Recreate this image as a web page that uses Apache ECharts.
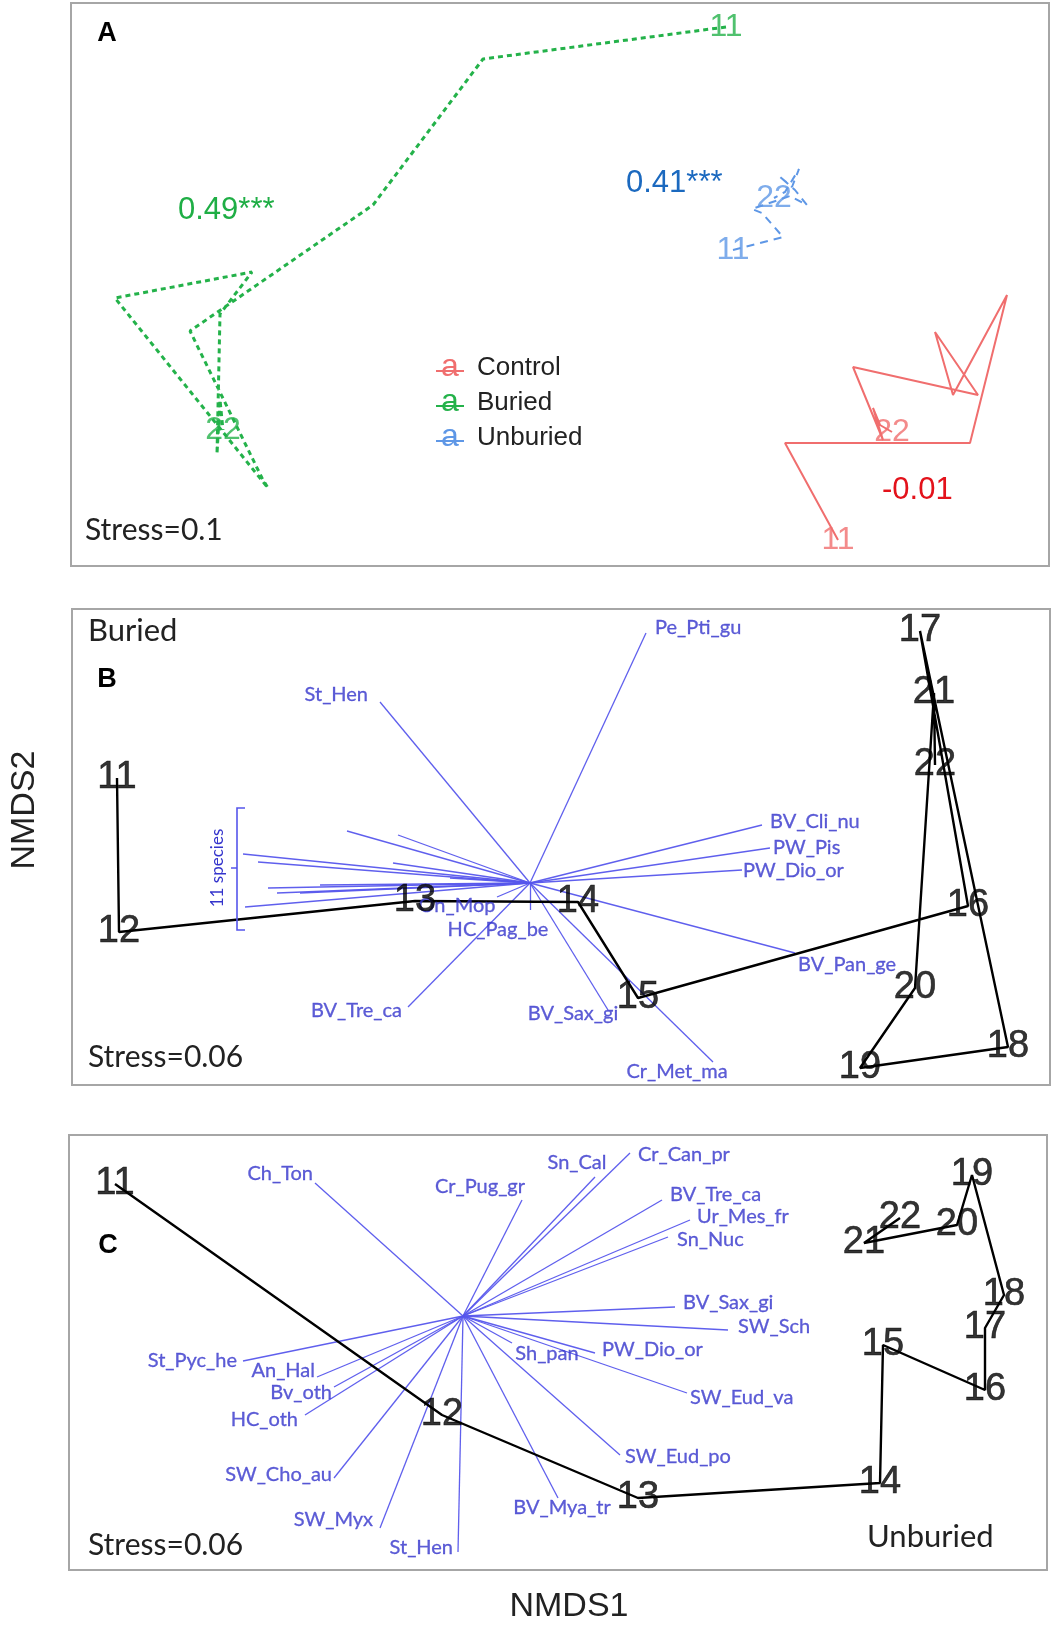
<!DOCTYPE html>
<html><head><meta charset="utf-8">
<script src="https://cdn.jsdelivr.net/npm/echarts/dist/echarts.min.js"></script>
<style>html,body{margin:0;padding:0;background:#fff}#c{width:1063px;height:1634px}</style>
</head><body><div id="c"></div>
<script>
// ---------- DATA ----------
const weeks = ['11','12','13','14','15','16','17','18','19','20','21','22'];

// Panel A (NMDS1, NMDS2 per week)
const aControlX  = [0.556,0.450,0.820,0.894,0.786,0.750,0.836,0.586,0.646,0.626,0.640,0.664];
const aControlY  = [-0.510,-0.316,-0.316,-0.020,-0.220,-0.094,-0.220,-0.164,-0.310,-0.246,-0.280,-0.294];
const aBuriedX   = [0.332,-0.154,-0.374,-0.740,-0.596,-0.584,-0.890,-0.616,-0.680,-0.686,-0.680,-0.674];
const aBuriedY   = [0.516,0.452,0.160,-0.092,-0.386,-0.406,-0.026,0.026,-0.058,-0.338,-0.230,-0.290];
const aUnburiedX = [0.346,0.446,0.404,0.384,0.460,0.494,0.470,0.438,0.464,0.478,0.450,0.428];
const aUnburiedY = [0.070,0.096,0.144,0.152,0.178,0.160,0.190,0.218,0.196,0.232,0.186,0.174];
const groups = ['Control','Buried','Unburied'];
const aStats = ['-0.01','0.49***','0.41***'];

// Panel B (Buried)
const bX = [-0.888,-0.884,-0.292,0.034,0.154,0.814,0.718,0.894,0.598,0.708,0.746,0.748];
const bY = [0.138,-0.170,-0.108,-0.110,-0.302,-0.118,0.432,-0.400,-0.442,-0.282,0.308,0.164];
const bOrigin = [-0.062,-0.072];
const bSpecies  = ['Pe_Pti_gu','St_Hen','BV_Cli_nu','PW_Pis','PW_Dio_or','BV_Pan_ge','BV_Sax_gi','Cr_Met_ma','BV_Tre_ca','HC_Pag_be','On_Mop'];
const bSpeciesX = [0.170,-0.362,0.402,0.418,0.362,0.468,0.094,0.304,-0.306,-0.062,-0.128];
const bSpeciesY = [0.428,0.290,0.044,-0.002,-0.046,-0.212,-0.326,-0.430,-0.320,-0.126,-0.100];
const bOtherX = [-0.636,-0.606,-0.428,-0.326,-0.336,-0.586,-0.568,-0.522,-0.632,-0.222,-0.482];
const bOtherY = [-0.014,-0.030,0.032,0.024,-0.032,-0.082,-0.092,-0.092,-0.120,-0.062,-0.076];
const bOtherLabel = '11 species';

// Panel C (Unburied)
const cX = [-0.886,-0.232,0.160,0.644,0.650,0.854,0.854,0.892,0.828,0.798,0.612,0.684];
const cY = [0.336,-0.126,-0.292,-0.262,0.014,-0.076,0.048,0.114,0.354,0.254,0.218,0.268];
const cOrigin = [-0.190,0.072];
const cSpecies  = ['Ch_Ton','Cr_Pug_gr','Sn_Cal','Cr_Can_pr','BV_Tre_ca','Ur_Mes_fr','Sn_Nuc','BV_Sax_gi','SW_Sch','PW_Dio_or','Sh_pan','SW_Eud_va','SW_Eud_po','BV_Mya_tr','St_Hen','SW_Myx','SW_Cho_au','HC_oth','Bv_oth','An_Hal','St_Pyc_he'];
const cSpeciesX = [-0.486,-0.072,0.074,0.144,0.208,0.264,0.220,0.234,0.340,0.074,-0.092,0.258,0.124,0.000,-0.200,-0.356,-0.448,-0.506,-0.448,-0.482,-0.630];
const cSpeciesY = [0.338,0.304,0.350,0.398,0.304,0.264,0.230,0.090,0.044,-0.002,0.018,-0.082,-0.206,-0.292,-0.400,-0.352,-0.252,-0.126,-0.070,-0.050,-0.018];

// ---------- LAYOUT / STYLE ----------
const bLabelPos = {Pe_Pti_gu:['r',9,-5], St_Hen:['l',-12,-7], BV_Cli_nu:['r',8,-3], PW_Pis:['r',3,0], PW_Dio_or:['r',1,1],
  BV_Pan_ge:['r',3,12], BV_Sax_gi:['c',-35,4], Cr_Met_ma:['c',-36,10], BV_Tre_ca:['l',-6,4], HC_Pag_be:['c',-32,20], On_Mop:['c',-40,9]};
const cLabelPos = {Ch_Ton:['l',-2,-9], Cr_Pug_gr:['l',3,-13], Sn_Cal:['c',-18,-14], Cr_Can_pr:['r',8,2], BV_Tre_ca:['r',8,-5],
  Ur_Mes_fr:['r',7,-3], Sn_Nuc:['r',9,3], BV_Sax_gi:['r',8,-4], SW_Sch:['r',10,-3], PW_Dio_or:['r',7,-3], Sh_pan:['c',35,11],
  SW_Eud_va:['r',3,5], SW_Eud_po:['r',5,2], BV_Mya_tr:['c',4,10], St_Hen:['l',-5,-4], SW_Myx:['l',-7,-8], SW_Cho_au:['l',-2,-3],
  HC_oth:['l',-7,5], Bv_oth:['l',-2,6], An_Hal:['l',-2,-6], St_Pyc_he:['l',-6,0]};

const FNUM = 'Liberation Sans, Arial, sans-serif';
const FTXT = 'Lato, Open Sans, sans-serif';
const colCtrl = '#f06e6e', colBur = '#24b24a', colUnb = '#5e97e6';
const vecCol = '#5656ec', vecText = '#3434cc';

function zip(xs, ys){ return xs.map((x,i)=>[x, ys[i]]); }
function path(gi, xs, ys, color, type, width){
  return {type:'line', xAxisIndex:gi, yAxisIndex:gi, data:zip(xs,ys), symbol:'none', showSymbol:false, silent:true, z:4,
    lineStyle:{color:color, width:width, type:type, cap:'butt'}};
}
function ptLabels(gi, xs, ys, color, size, idx, bw){
  return {type:'scatter', xAxisIndex:gi, yAxisIndex:gi, symbolSize:1, itemStyle:{color:'rgba(0,0,0,0)'}, silent:true, z:7,
    label:{show:true, position:'inside', formatter:'{b}', color:color, fontSize:size, fontFamily:FNUM,
      textBorderColor:color, textBorderWidth:bw||0},
    data: idx.map(i=>({name:weeks[i], value:[xs[i], ys[i]]}))};
}
function vectors(gi, origin, xs, ys){
  return {type:'lines', coordinateSystem:'cartesian2d', xAxisIndex:gi, yAxisIndex:gi, silent:true, z:2,
    lineStyle:{color:vecCol, width:1.3, opacity:0.95, curveness:0},
    data: xs.map((x,i)=>({coords:[origin, [x, ys[i]]]}))};
}
function vecLabels(gi, names, xs, ys, layout){
  return {type:'scatter', xAxisIndex:gi, yAxisIndex:gi, symbolSize:1, itemStyle:{color:'rgba(0,0,0,0)'}, silent:true, z:5,
    label:{show:true, position:'inside', formatter:'{b}', color:vecText, fontSize:20, fontFamily:FTXT, verticalAlign:'middle',
      textBorderColor:vecText, textBorderWidth:0.3},
    data: names.map((n,i)=>{ const p = layout[n];
      return {name:n, value:[xs[i], ys[i]], label:{align: p[0]==='l'?'right':(p[0]==='r'?'left':'center'), offset:[p[1],p[2]]}}; })};
}

const grids = [
  {left:71, top:3, width:978, height:563},
  {left:72, top:609, width:978, height:476},
  {left:69, top:1135, width:978, height:435}
].map(g=>Object.assign(g, {show:true, borderColor:'#a6a6a6', borderWidth:2, backgroundColor:'transparent', containLabel:false}));
const yRanges = [[-0.562,0.564],[-0.476,0.476],[-0.436,0.434]];
const xAxes = [0,1,2].map(i=>({gridIndex:i, type:'value', min:-0.978, max:0.978, show:false}));
const yAxes = [0,1,2].map(i=>({gridIndex:i, type:'value', min:yRanges[i][0], max:yRanges[i][1], show:false}));

const ends = [0, weeks.length-1];
const all = weeks.map((w,i)=>i);
const series = [
  // Panel A
  path(0, aControlX, aControlY, colCtrl, 'solid', 2),
  path(0, aBuriedX, aBuriedY, colBur, [5,4], 3),
  path(0, aUnburiedX, aUnburiedY, colUnb, [8,6], 2),
  ptLabels(0, aControlX, aControlY, colCtrl, 32, ends),
  ptLabels(0, aBuriedX, aBuriedY, colBur, 32, ends),
  ptLabels(0, aUnburiedX, aUnburiedY, colUnb, 32, ends),
  // Panel B
  vectors(1, bOrigin, bOtherX, bOtherY),
  vectors(1, bOrigin, bSpeciesX, bSpeciesY),
  vecLabels(1, bSpecies, bSpeciesX, bSpeciesY, bLabelPos),
  path(1, bX, bY, '#000', 'solid', 2.4),
  ptLabels(1, bX, bY, '#000', 38, all, 0.6),
  // Panel C
  vectors(2, cOrigin, cSpeciesX, cSpeciesY),
  vecLabels(2, cSpecies, cSpeciesX, cSpeciesY, cLabelPos),
  path(2, cX, cY, '#000', 'solid', 2.4),
  ptLabels(2, cX, cY, '#000', 38, all, 0.6)
];

function txt(x, y, s, size, fill, font, extra){
  return Object.assign({type:'text', x:x, y:y, z:20, silent:true,
    style:Object.assign({text:s, fontSize:size, fontFamily:font, fill:fill, align:'left', verticalAlign:'middle'}, extra||{})});
}
const legendRows = [368, 403, 438];
const legendCols = [colCtrl, colBur, colUnb];
const graphic = [
  txt(107, 34, 'A', 27, '#000', FNUM, {fontWeight:'bold', align:'center'}),
  txt(107, 680, 'B', 27, '#000', FNUM, {fontWeight:'bold', align:'center'}),
  txt(108, 1246, 'C', 27, '#000', FNUM, {fontWeight:'bold', align:'center'}),
  txt(85, 530, 'Stress=0.1', 30, '#222', FTXT),
  txt(88, 631, 'Buried', 31, '#222', FTXT),
  txt(88, 1057, 'Stress=0.06', 30, '#222', FTXT),
  txt(88, 1545, 'Stress=0.06', 30, '#222', FTXT),
  txt(867, 1537, 'Unburied', 31, '#222', FTXT),
  txt(569, 1607, 'NMDS1', 34, '#222', FNUM, {align:'center'}),
  Object.assign(txt(25, 810, 'NMDS2', 34, '#222', FNUM, {align:'center'}), {rotation:Math.PI/2}),
  txt(882, 490, aStats[0], 31, '#e3121b', FNUM),
  txt(178, 210, aStats[1], 31, '#1fae45', FNUM),
  txt(626, 183, aStats[2], 31, '#1b69bf', FNUM),
  // bracket for the unlabeled species
  {type:'polyline', z:20, silent:true, shape:{points:[[245,808],[237,808],[237,868],[231,868],[237,868],[237,930],[245,930]]},
    style:{stroke:vecCol, lineWidth:1.6, fill:null}},
  Object.assign(txt(218, 868, bOtherLabel, 17, vecText, FTXT, {align:'center'}), {rotation:Math.PI/2})
];
groups.forEach((g,i)=>{
  const y = legendRows[i];
  graphic.push({type:'line', z:20, silent:true, shape:{x1:436, y1:y+3, x2:464, y2:y+3}, style:{stroke:legendCols[i], lineWidth:2}});
  graphic.push(txt(450, y-1, 'a', 32, legendCols[i], FNUM, {align:'center'}));
  graphic.push(txt(477, y, g, 26, '#222', FNUM));
});

const chart = echarts.init(document.getElementById('c'), null, {renderer:'canvas'});
chart.setOption({animation:false, backgroundColor:'#fff', grid:grids, xAxis:xAxes, yAxis:yAxes, series:series, graphic:graphic});
</script></body></html>
